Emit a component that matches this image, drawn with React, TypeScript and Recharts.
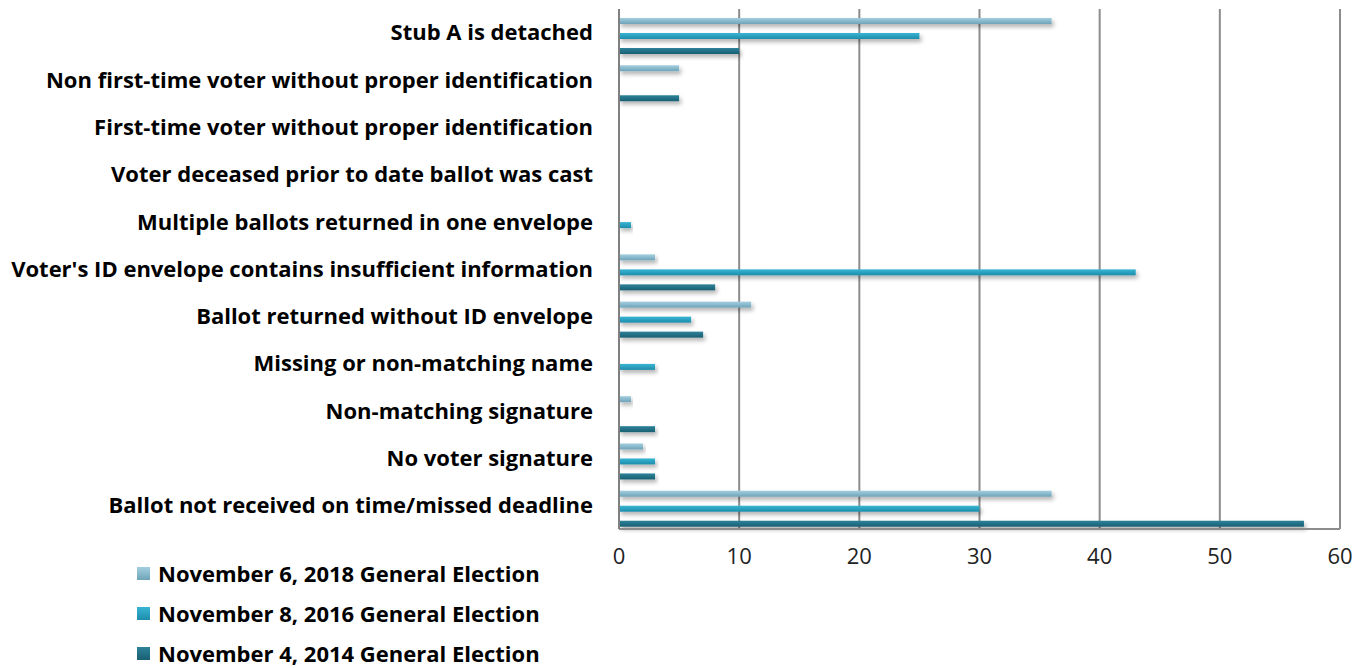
import React from "react";
import {
  Bar,
  BarChart,
  CartesianGrid,
  Legend,
  XAxis,
  YAxis,
} from "recharts";

const reasons = [
  "Stub A is detached",
  "Non first-time voter without proper identification",
  "First-time voter without proper identification",
  "Voter deceased prior to date ballot was cast",
  "Multiple ballots returned in one envelope",
  "Voter's ID envelope contains insufficient information",
  "Ballot returned without ID envelope",
  "Missing or non-matching name",
  "Non-matching signature",
  "No voter signature",
  "Ballot not received on time/missed deadline",
];

const nov2018 = [36, 5, 0, 0, 0, 3, 11, 0, 1, 2, 36];
const nov2016 = [25, 0, 0, 0, 1, 43, 6, 3, 0, 3, 30];
const nov2014 = [10, 5, 0, 0, 0, 8, 7, 0, 3, 3, 57];

const xTicks = [0, 10, 20, 30, 40, 50, 60];

const SERIES = [
  { key: "y2018", name: "November 6, 2018 General Election", top: "#a2cfe0", bottom: "#6fa3b8" },
  { key: "y2016", name: "November 8, 2016 General Election", top: "#38b5d4", bottom: "#1f8cab" },
  { key: "y2014", name: "November 4, 2014 General Election", top: "#2c8299", bottom: "#1a5f73" },
];

const data = reasons.map((r, i) => ({
  reason: r,
  y2018: nov2018[i],
  y2016: nov2016[i],
  y2014: nov2014[i],
}));

const FONT = "'Open Sans', sans-serif";

function ShadowBar(props: any) {
  const { x, y, width, height, fill } = props;
  if (!width || width <= 0) return null;
  return (
    <rect
      x={x}
      y={y + 3}
      width={width}
      height={height}
      fill={fill}
      filter="url(#barShadow)"
    />
  );
}

function LegendBox() {
  return (
    <div style={{ position: "relative", width: 600, height: 109, fontFamily: FONT }}>
      {SERIES.map((s, i) => (
        <div
          key={s.key}
          style={{
            position: "absolute",
            left: 137,
            top: i * 40,
            height: 28,
            display: "flex",
            alignItems: "center",
            whiteSpace: "nowrap",
          }}
        >
          <span
            style={{
              display: "inline-block",
              width: 13,
              height: 13,
              marginRight: 8,
              background: `linear-gradient(${s.top}, ${s.bottom})`,
            }}
          />
          <span style={{ fontSize: 22, fontWeight: 700, color: "#000" }}>{s.name}</span>
        </div>
      ))}
    </div>
  );
}

export default function App() {
  return (
    <div style={{ position: "absolute", left: 0, top: 0, background: "#fff" }}>
      <BarChart
        width={1366}
        height={668}
        data={data}
        layout="vertical"
        margin={{ top: 9, right: 26, left: 0, bottom: 0 }}
        barGap={9}
        barSize={6}
      >
        <defs>
          {SERIES.map((s) => (
            <linearGradient key={s.key} id={`grad-${s.key}`} x1="0" y1="0" x2="0" y2="1">
              <stop offset="0%" stopColor={s.top} />
              <stop offset="100%" stopColor={s.bottom} />
            </linearGradient>
          ))}
          <filter id="barShadow" x="-5%" y="-100%" width="115%" height="400%">
            <feDropShadow dx="2" dy="3" stdDeviation="2" floodColor="#000" floodOpacity="0.3" />
          </filter>
        </defs>
        <CartesianGrid horizontal={false} stroke="#8c8c8c" strokeWidth={2} />
        <XAxis
          type="number"
          domain={[0, 60]}
          ticks={xTicks}
          height={30}
          tickLine={false}
          axisLine={{ stroke: "#8c8c8c", strokeWidth: 2 }}
          tickMargin={13}
          tick={{ fill: "#222", fontSize: 22, fontFamily: FONT }}
        />
        <YAxis
          type="category"
          dataKey="reason"
          width={619}
          tickLine={false}
          tickSize={0}
          tickMargin={26}
          axisLine={{ stroke: "#808080", strokeWidth: 2 }}
          tick={{ fill: "#000", fontSize: 22, fontWeight: 700, fontFamily: FONT }}
          interval={0}
        />
        <Legend
          verticalAlign="bottom"
          align="left"
          content={() => <LegendBox />}
        />
        {SERIES.map((s) => (
          <Bar
            key={s.key}
            dataKey={s.key}
            name={s.name}
            fill={`url(#grad-${s.key})`}
            shape={ShadowBar}
            isAnimationActive={false}
          />
        ))}
      </BarChart>
    </div>
  );
}
